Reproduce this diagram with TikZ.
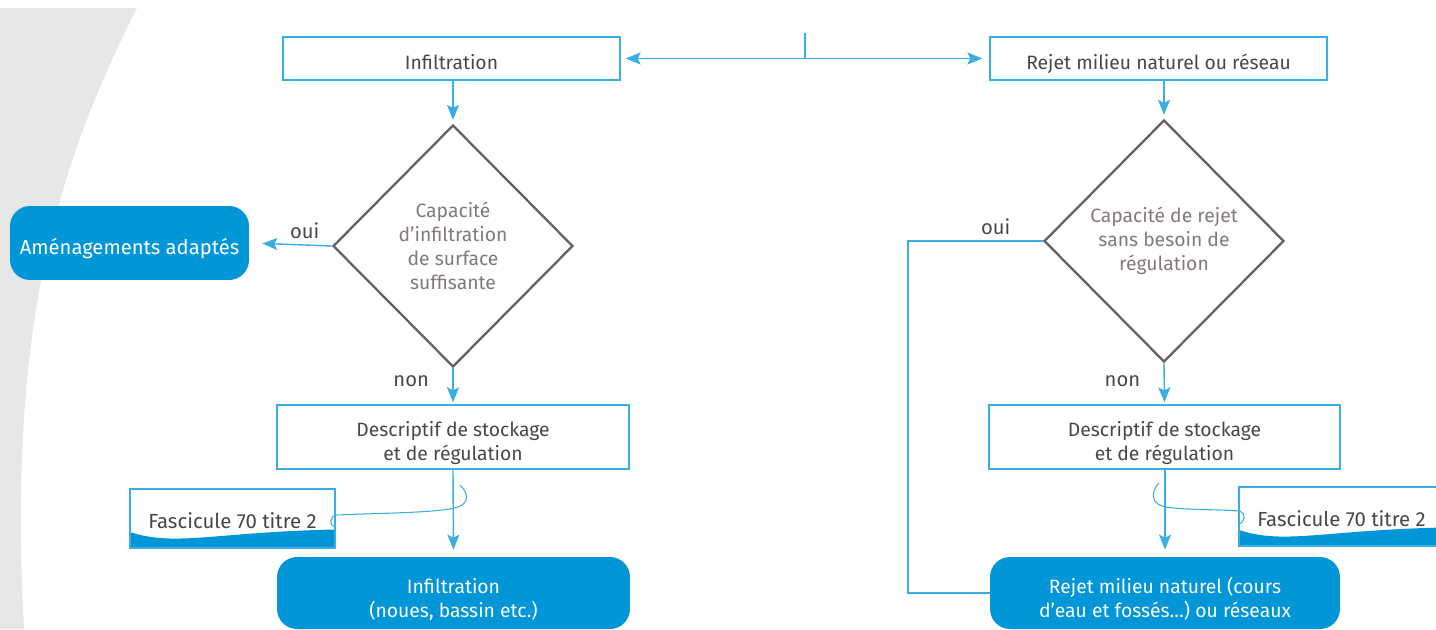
\documentclass[tikz,border=0pt]{standalone}
\usepackage{fontspec}
\setmainfont{Fira Sans}
\usetikzlibrary{shapes.geometric,arrows.meta,positioning}

\definecolor{lineblue}{HTML}{3AAEE3}
\definecolor{fillblue}{HTML}{0096D7}
\definecolor{greybg}{HTML}{E6E7E7}
\definecolor{txtgrey}{HTML}{474747}
\definecolor{diagrey}{HTML}{6B5E5E}
\definecolor{diatxt}{HTML}{857878}

\begin{document}
\begin{tikzpicture}[x=0.02cm,y=-0.02cm,>={Stealth[length=3mm,width=2.4mm,inset=0.6mm]},
    font=\fontsize{11}{13.8}\selectfont,
    box/.style={draw=lineblue,line width=0.8pt,text=txtgrey,align=center,
      minimum width=6.74cm,minimum height=0.86cm,inner sep=0pt,
      text height=12pt,text depth=0pt},
    twoline/.style={text height=27pt,text depth=0pt},
    test/.style={diamond,draw=diagrey,line width=1.3pt,text=diatxt,align=center,
      minimum width=4.8cm,minimum height=4.84cm,inner sep=0pt},
    result/.style={fill=fillblue,text=white,align=center,rounded corners=0.4cm,
      minimum height=1.44cm,inner sep=0pt,text height=28.2pt,text depth=0pt},
    fasc/.style={draw=lineblue,line width=0.8pt,text=txtgrey,font=\fontsize{11.6}{14}\selectfont,
      minimum width=4.1cm,minimum height=1.18cm,inner sep=0pt,text height=11pt,text depth=0pt,
      path picture={\fill[fillblue] ([yshift=0.32cm]path picture bounding box.south west)
        .. controls +(0.9cm,-0.3cm) and +(-2.4cm,-0.05cm)
        .. ([yshift=0.37cm]path picture bounding box.south east)
        |- (path picture bounding box.south west) -- cycle;}},
    arr/.style={draw=lineblue,line width=0.8pt,->,shorten >=0.08cm},
    link/.style={draw=lineblue,line width=0.6pt},
    lbl/.style={text=txtgrey,font=\fontsize{11.5}{13.8}\selectfont}]
  \useasboundingbox (0,0) rectangle (1436,629);
  % grey band on the left
  \fill[greybg] (0,8) -- (137,8) .. controls (55,170) and (8,330) .. (24,629) -- (0,629) -- cycle;

  \node[box] (infil) at (451.5,58.5) {Infiltration};
  \node[box] (rejet) at (1158.5,58.5) {Rejet milieu naturel ou réseau};
  \node[test] (dec1) at (453,246) {Capacité\\d’infiltration\\de surface\\suffisante};
  \node[test] (dec2) at (1164,241) {Capacité de rejet\\sans besoin de\\régulation};
  \node[result,minimum width=4.78cm,minimum height=1.48cm,text height=13.6pt,text depth=0pt,
    font=\fontsize{11.5}{14}\selectfont] (adapt) at (129.5,243) {Aménagements adaptés};
  \node[box,twoline,minimum width=7.04cm,minimum height=1.28cm] (desc1) at (453,437)
    {Descriptif de stockage\\et de régulation};
  \node[box,twoline,minimum width=7.02cm,minimum height=1.28cm] (desc2) at (1164.5,437)
    {Descriptif de stockage\\et de régulation};
  \node[fasc] (fasc1) at (232.5,518.5) {Fascicule 70 titre 2};
  \node[fasc] (fasc2) at (1341.5,516.5) {Fascicule 70 titre 2};
  \node[result,minimum width=7.06cm] (final1) at (453.5,593)
    {Infiltration\\(noues, bassin etc.)};
  \node[result,minimum width=7cm] (final2) at (1165,593)
    {Rejet milieu naturel (cours\\d’eau et fossés…) ou réseaux};
  \coordinate (tick) at (805,33);
  \coordinate (hook1) at (460,485);
  \coordinate (hook2) at (1159,483);

  \draw[arr,<->,shorten <=0.1cm,shorten >=0.14cm] (infil.east) -- (rejet.west);
  \draw[link,line width=0.8pt] (tick) -- (tick |- infil.east);
  \draw[arr] (dec1 |- infil.south) -- (dec1.north);
  \draw[arr,shorten >=0.26cm] (dec1.west) -- node[lbl,above,pos=0.33] {oui} (adapt.east);
  \draw[arr,shorten >=0.04cm] (dec1.south) -- node[lbl,left=0.35cm,pos=0.36] {non} (desc1.north);
  \draw[arr,shorten >=0.14cm] (desc1.south) -- (final1.north);
  \draw[arr] (dec2 |- rejet.south) -- (dec2.north);
  \draw[arr,shorten >=0.04cm] (dec2.south) -- node[lbl,left=0.35cm,pos=0.45] {non} (desc2.north);
  \draw[arr,shorten >=0.14cm] (desc2.south -| final2) -- (final2.north);
  \draw[link,line width=0.8pt] (dec2.west) -- node[lbl,above,pos=0.35] {oui} ++(-135,0)
    |- (final2.west);

  % paper clips to the fascicule notes
  \draw[link] ([yshift=-0.17cm]fasc1.east) .. controls +(-7,-1) and +(-8,1) .. (337,515)
    .. controls (380,513) and (440,513) .. (458,507)
    .. controls (470,503) and (468,492) .. (hook1);
  \draw[link] ([yshift=-0.15cm]fasc2.west) .. controls +(7,-1) and +(6,2) .. (1240,511)
    .. controls (1210,509) and (1175,510) .. (1162,506)
    .. controls (1150,502) and (1152,490) .. (hook2);
\end{tikzpicture}
\end{document}
